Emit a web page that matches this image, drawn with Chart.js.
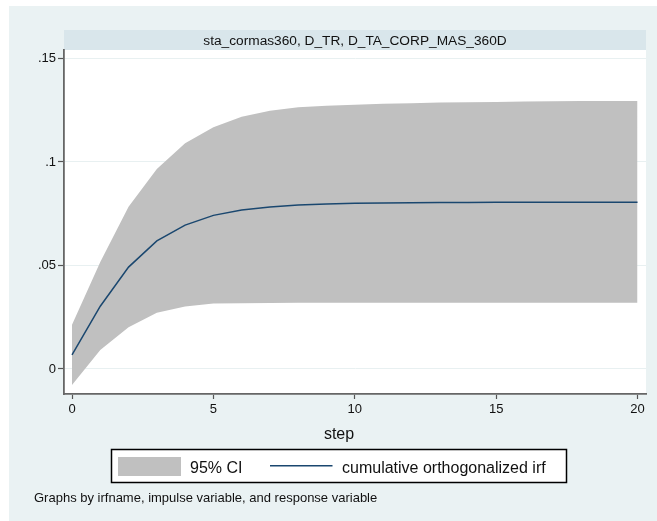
<!DOCTYPE html>
<html>
<head>
<meta charset="utf-8">
<script src="https://cdn.jsdelivr.net/npm/chart.js@4.4.1/dist/chart.umd.min.js"></script>
<style>
  html, body { margin: 0; padding: 0; background: #ffffff; }
  #wrap { width: 657px; height: 521px; }
</style>
</head>
<body>
<div id="wrap"><canvas id="c" width="657" height="521"></canvas></div>
<script>
// ---- data ----
const steps = [0,1,2,3,4,5,6,7,8,9,10,11,12,13,14,15,16,17,18,19,20];
const irf   = [0.0068,0.0303,0.0492,0.0619,0.0695,0.0742,0.0768,0.0783,0.0792,0.0797,0.0800,0.0802,0.0803,0.0804,0.0804,0.0805,0.0805,0.0805,0.0805,0.0805,0.0805];
const ciUpper = [0.0213,0.0517,0.0784,0.0966,0.1090,0.1168,0.1219,0.1248,0.1264,0.1272,0.1277,0.1281,0.1284,0.1287,0.1289,0.1290,0.1292,0.1293,0.1294,0.1295,0.1295];
const ciLower = [-0.0077,0.0092,0.0201,0.0272,0.0302,0.0316,0.0318,0.0319,0.0320,0.0320,0.0320,0.0320,0.0320,0.0320,0.0320,0.0320,0.0320,0.0320,0.0320,0.0320,0.0320];
const yTicks = [0, 0.05, 0.1, 0.15];
const yTickLabels = ['0', '.05', '.1', '.15'];
const xTicks = [0, 5, 10, 15, 20];
const panelTitle = 'sta_cormas360, D_TR, D_TA_CORP_MAS_360D';
const xTitle = 'step';
const legendLabels = ['95% CI', 'cumulative orthogonalized irf'];
const note = 'Graphs by irfname, impulse variable, and response variable';

const FONT = '"Liberation Sans", Arial, Helvetica, sans-serif';
const BG = '#eaf2f3';
const STRIP = '#d9e6eb';
const CI_COLOR = '#c0c0c0';
const LINE_COLOR = '#1a476f';

const toXY = (arr) => arr.map((v, i) => ({ x: steps[i], y: v }));

const stataPlugin = {
  id: 'stata',
  beforeDraw(chart) {
    const { ctx, chartArea: a } = chart;
    ctx.save();
    ctx.fillStyle = BG;
    ctx.fillRect(9, 6, chart.width - 9, chart.height - 6);
    // plot region
    ctx.fillStyle = '#ffffff';
    ctx.fillRect(a.left, a.top, a.right - a.left, a.bottom - a.top);
    // strip
    ctx.fillStyle = STRIP;
    ctx.fillRect(a.left, 30, a.right - a.left, a.top - 30);
    ctx.fillStyle = '#111';
    ctx.font = '13.7px ' + FONT;
    ctx.textAlign = 'center';
    ctx.textBaseline = 'alphabetic';
    ctx.fillText(panelTitle, (a.left + a.right) / 2, 45);
    ctx.restore();
  },
  afterDraw(chart) {
    const { ctx } = chart;
    ctx.save();
    // x title
    ctx.fillStyle = '#111';
    ctx.font = '16px ' + FONT;
    ctx.textAlign = 'center';
    ctx.textBaseline = 'alphabetic';
    ctx.fillText(xTitle, 339, 439);
    // legend box
    ctx.fillStyle = '#ffffff';
    ctx.fillRect(111.5, 449.5, 455, 33);
    ctx.strokeStyle = '#000';
    ctx.lineWidth = 1.5;
    ctx.strokeRect(111.5, 449.5, 455, 33);
    const ds = chart.data.datasets;
    ctx.fillStyle = ds[1].backgroundColor;
    ctx.fillRect(118, 457, 63, 19);
    ctx.fillStyle = '#111';
    ctx.textAlign = 'left';
    ctx.font = '16px ' + FONT;
    ctx.fillText(legendLabels[0], 190, 472.5);
    ctx.strokeStyle = ds[0].borderColor;
    ctx.lineWidth = 1.6;
    ctx.beginPath();
    ctx.moveTo(270, 465.7);
    ctx.lineTo(332.5, 465.7);
    ctx.stroke();
    ctx.fillText(legendLabels[1], 342, 472.5);
    // note
    ctx.font = '13px ' + FONT;
    ctx.fillText(note, 34, 502);
    ctx.restore();
  }
};

new Chart(document.getElementById('c'), {
  type: 'line',
  data: {
    datasets: [
      { label: legendLabels[1], data: toXY(irf), fill: false, borderColor: LINE_COLOR,
        borderWidth: 1.5, pointRadius: 0, tension: 0, order: 0 },
      { label: legendLabels[0], data: toXY(ciUpper), fill: '+1', backgroundColor: CI_COLOR,
        borderWidth: 0, borderColor: 'rgba(0,0,0,0)', pointRadius: 0, tension: 0, order: 2 },
      { label: 'lower', data: toXY(ciLower), fill: false, backgroundColor: CI_COLOR,
        borderWidth: 0, borderColor: 'rgba(0,0,0,0)', pointRadius: 0, tension: 0, order: 1 }
    ]
  },
  options: {
    responsive: false,
    animation: false,
    devicePixelRatio: 1,
    layout: { padding: { top: 50, right: 11, bottom: 97, left: 0 } },
    plugins: { legend: { display: false }, title: { display: false }, tooltip: { enabled: false },
               filler: { drawTime: 'beforeDatasetsDraw' } },
    scales: {
      x: {
        type: 'linear',
        min: -0.283, max: 20.3,
        afterBuildTicks(scale) { scale.ticks = xTicks.map(v => ({ value: v })); },
        afterFit(scale) { scale.height = 30; },
        ticks: { font: { family: FONT, size: 13 }, color: '#111', padding: 3, maxRotation: 0,
                 callback: (v) => String(v) },
        grid: { drawOnChartArea: false, tickLength: 5, tickColor: '#555', tickWidth: 1.2 },
        border: { display: true, color: '#666', width: 1.8 }
      },
      y: {
        type: 'linear',
        min: -0.0121, max: 0.1541,
        afterBuildTicks(scale) { scale.ticks = yTicks.map(v => ({ value: v })); },
        afterFit(scale) { scale.width = 64; },
        ticks: { font: { family: FONT, size: 13 }, color: '#111', padding: 2,
                 callback: (v, i) => yTickLabels[i] },
        grid: { color: '#e8f0f1', lineWidth: 1, tickLength: 6, tickColor: '#555', tickWidth: 1.2 },
        border: { display: true, color: '#666', width: 1.8 }
      }
    }
  },
  plugins: [stataPlugin]
});
</script>
</body>
</html>
